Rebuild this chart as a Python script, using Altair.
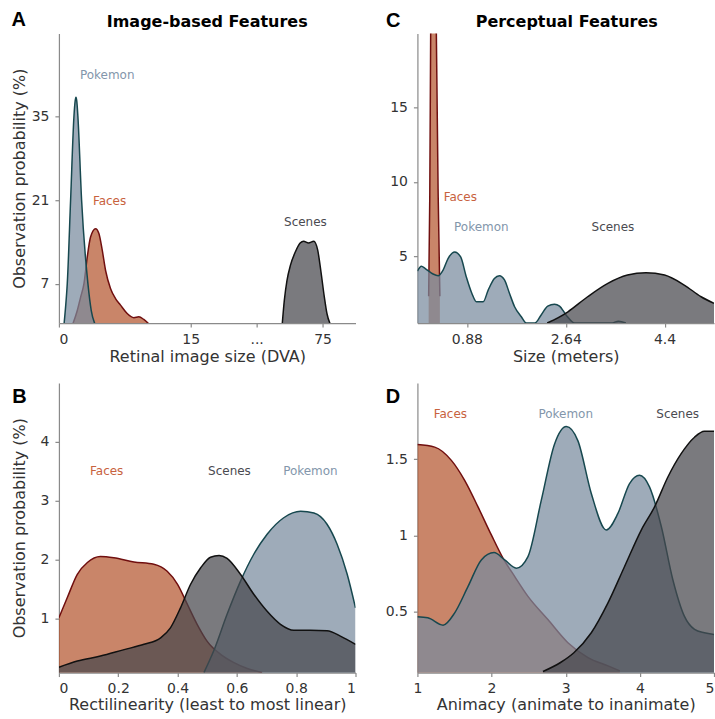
import altair as alt
import pandas as pd

FONT = "DejaVu Sans"

# ---------------- Panel A : Retinal image size (DVA) ----------------
A_POKEMON_X = [0.57, 0.76, 0.95, 1.33, 1.71, 1.85, 1.94, 2.03, 2.16, 2.58, 3.30, 3.68, 4.17]
A_POKEMON_Y = [0.0, 3.1, 7.0, 21.0, 35.0, 37.6, 38.2, 37.6, 35.0, 21.0, 7.0, 2.5, 0.0]
A_FACES_X = [1.52, 2.09, 2.47, 2.85, 3.22, 3.60, 4.17, 4.55, 4.93, 5.31, 5.87, 6.44, 7.01, 7.77, 8.53, 9.09, 9.66, 10.41]
A_FACES_Y = [0.0, 2.5, 4.75, 7.0, 11.4, 14.8, 16.2, 15.4, 12.6, 9.2, 6.2, 4.5, 3.4, 2.0, 1.3, 1.45, 1.0, 0.0]
A_SCENES_X = [65.8, 66.3, 66.9, 67.7, 68.8, 69.9, 70.7, 71.8, 73.0, 73.9, 74.6, 75.4, 76.0, 76.9]
A_SCENES_Y = [0.0, 4.2, 7.5, 10.1, 12.3, 13.8, 14.1, 13.8, 14.1, 12.6, 9.2, 4.8, 2.0, 0.0]
A_LABELS = ["Pokemon", "Faces", "Scenes"]
A_LABEL_X = [5.5, 5.76, 71.1]
A_LABEL_Y = [41.9, 20.9, 17.4]
A_XTICK_POS = [0, 2, 3, 4]
A_XTICK_LABELS = ["0", "15", "...", "75"]
A_YTICKS = [7, 21, 35]

# ---------------- Panel B : Rectilinearity ----------------
B_FACES_X = [0, 0.028, 0.062, 0.096, 0.14, 0.185, 0.253, 0.32, 0.365, 0.40, 0.433, 0.466, 0.50, 0.545, 0.59, 0.635, 0.685]
B_FACES_Y = [1.01, 1.35, 1.75, 1.95, 2.05, 2.03, 1.96, 1.92, 1.80, 1.58, 1.24, 0.90, 0.61, 0.39, 0.25, 0.15, 0.08]
B_SCENES_X = [0, 0.062, 0.14, 0.22, 0.287, 0.343, 0.376, 0.41, 0.444, 0.478, 0.511, 0.54, 0.567, 0.612, 0.657, 0.702, 0.747, 0.792, 0.848, 0.904, 0.949, 1.0]
B_SCENES_Y = [0.17, 0.275, 0.36, 0.47, 0.56, 0.67, 0.84, 1.18, 1.58, 1.86, 2.04, 2.07, 2.02, 1.75, 1.41, 1.12, 0.9, 0.8, 0.8, 0.79, 0.7, 0.56]
B_POKEMON_X = [0.489, 0.522, 0.567, 0.612, 0.657, 0.702, 0.758, 0.815, 0.86, 0.904, 0.938, 0.972, 1.0]
B_POKEMON_Y = [0.08, 0.45, 1.07, 1.63, 2.09, 2.43, 2.71, 2.82, 2.79, 2.6, 2.26, 1.75, 1.18]
B_LABELS = ["Faces", "Scenes", "Pokemon"]
B_LABEL_X = [0.161, 0.575, 0.848]
B_LABEL_Y = [3.5, 3.5, 3.5]
B_XTICKS = [0, 0.2, 0.4, 0.6, 0.8, 1]
B_YTICKS = [1, 2, 3, 4]

# ---------------- Panel C : Size (meters) ----------------
C_FACES_X = [0.20, 0.22, 0.236, 0.26, 0.29, 0.315, 0.337, 0.37, 0.40]
C_FACES_Y = [2.3, 9.0, 20.0, 32.0, 36.0, 32.0, 20.0, 9.0, 2.3]
C_POKEMON_X = [0, 0.07, 0.14, 0.278, 0.37, 0.457, 0.545, 0.663, 0.77, 0.87, 0.97, 1.05, 1.17, 1.26, 1.37, 1.46,
               1.55, 1.64, 1.73, 1.85, 1.94, 2.09, 2.2, 2.32, 2.44, 2.53, 2.65, 2.8, 3.45, 3.58, 3.71]
C_POKEMON_Y = [4.0, 4.33, 4.17, 3.8, 3.69, 4.07, 4.84, 5.29, 4.95, 3.61, 2.49, 1.93, 1.93, 2.72, 3.5, 3.69,
               3.41, 2.49, 1.6, 0.92, 0.5, 0.5, 1.03, 1.64, 1.77, 1.64, 1.03, 0.5, 0.5, 0.62, 0.5]
C_SCENES_X = [2.31, 2.5, 2.68, 3.03, 3.39, 3.74, 4.07, 4.4, 4.75, 5.05, 5.28]
C_SCENES_Y = [0.5, 0.85, 1.26, 2.27, 3.17, 3.73, 3.89, 3.73, 3.06, 2.27, 1.82]
C_LABELS = ["Faces", "Pokemon", "Scenes"]
C_LABEL_X = [0.764, 1.138, 3.48]
C_LABEL_Y = [8.99, 6.97, 6.97]
C_XTICKS = [0.88, 2.64, 4.4]
C_YTICKS = [5, 10, 15]

# ---------------- Panel D : Animacy ----------------
D_FACES_X = [1.0, 1.233, 1.458, 1.637, 1.817, 1.997, 2.154, 2.311, 2.491, 2.76, 3.03, 3.30, 3.57, 3.73]
D_FACES_Y = [1.596, 1.579, 1.492, 1.361, 1.187, 1.003, 0.851, 0.731, 0.6, 0.448, 0.296, 0.198, 0.144, 0.111]
D_POKEMON_X = [1.0, 1.14, 1.346, 1.503, 1.683, 1.862, 2.033, 2.177, 2.334, 2.491, 2.671, 2.85, 3.008, 3.165,
               3.345, 3.547, 3.704, 3.861, 3.996, 4.13, 4.29, 4.445, 4.6, 4.738, 4.87, 5.0]
D_POKEMON_Y = [0.466, 0.459, 0.411, 0.492, 0.665, 0.839, 0.887, 0.839, 0.785, 0.861, 1.231, 1.6, 1.714, 1.62,
               1.275, 1.035, 1.144, 1.34, 1.394, 1.318, 1.057, 0.709, 0.47, 0.383, 0.361, 0.35]
D_SCENES_X = [2.693, 2.93, 3.11, 3.345, 3.57, 3.794, 4.019, 4.198, 4.378, 4.557, 4.737, 4.87, 5.0]
D_SCENES_Y = [0.107, 0.166, 0.23, 0.361, 0.557, 0.796, 1.035, 1.187, 1.383, 1.536, 1.644, 1.683, 1.683]
D_LABELS = ["Faces", "Pokemon", "Scenes"]
D_LABEL_X = [1.445, 3.0, 4.51]
D_LABEL_Y = [1.796, 1.796, 1.796]
D_XTICKS = [1, 2, 3, 4, 5]
D_YTICKS = [0.5, 1, 1.5]

# ---------------- styles ----------------
FILL = {"Faces": "#b4562f", "Pokemon": "#788a9e", "Scenes": "#46464c"}
STROKE = {"Faces": "#700f0f", "Pokemon": "#17484f", "Scenes": "#111111"}
LABEL_COLOR = {"Faces": "#c8623e", "Pokemon": "#8396ab", "Scenes": "#4a4a50"}

W, H = 297, 290

A_XEXPR = "datum.x <= 15 ? datum.x / 7.5 : 3 + (datum.x - 60) / 15"
PLAIN = "'' + datum.value"


def panel(curves, labels, xdom, ydom, xaxis, yaxis, letter, letter_xy, title=None, xexpr=None, anchor=False):
    xs = alt.Scale(domain=xdom, zero=False, nice=False)
    ys = alt.Scale(domain=ydom, zero=False, nice=False)
    xf = "xp" if xexpr else "x"
    layers = []
    for name, xv, yv in curves:
        df = pd.DataFrame({"x": xv, "y": yv})
        base = alt.Chart(df)
        if xexpr:
            base = base.transform_calculate(xp=xexpr)
        enc = dict(x=alt.X(f"{xf}:Q", scale=xs, axis=xaxis),
                   y=alt.Y("y:Q", scale=ys, axis=yaxis))
        layers.append(base.mark_area(clip=True, interpolate="monotone", fill=FILL[name],
                                     fillOpacity=0.72).encode(**enc))
        layers.append(base.mark_line(clip=True, interpolate="monotone", stroke=STROKE[name],
                                     strokeWidth=1.5).encode(**enc))
    names, lx, ly = labels
    ldf = pd.DataFrame({"t": names, "x": lx, "y": ly, "c": [LABEL_COLOR[n] for n in names]})
    lbase = alt.Chart(ldf)
    if xexpr:
        lbase = lbase.transform_calculate(xp=xexpr)
    layers.append(lbase.mark_text(font=FONT, fontSize=12, align="center", baseline="middle").encode(
        x=alt.X(f"{xf}:Q", scale=xs, axis=xaxis),
        y=alt.Y("y:Q", scale=ys, axis=yaxis),
        text="t:N",
        color=alt.Color("c:N", scale=None)))
    # panel letter
    layers.append(alt.Chart(pd.DataFrame({"t": [letter]})).mark_text(
        font="Liberation Sans", fontSize=20, fontWeight="bold", align="left",
        baseline="alphabetic", color="black").encode(
        x=alt.value(letter_xy[0]), y=alt.value(letter_xy[1]), text="t:N"))
    if title:
        layers.append(alt.Chart(pd.DataFrame({"t": [title[0]]})).mark_text(
            font=FONT, fontSize=16, fontWeight="bold", align="center",
            baseline="alphabetic", color="black").encode(
            x=alt.value(title[1]), y=alt.value(-6.3), text="t:N"))
    if anchor:
        layers.append(alt.Chart(pd.DataFrame({"a": [0]})).mark_rule(opacity=0).encode(
            x=alt.value(-58.5), x2=alt.value(-58.5), y=alt.value(-33), y2=alt.value(-33)))
    return alt.layer(*layers).properties(width=W, height=H)


YT = "Observation probability (%)"


def yaxis(values, title=None):
    kw = dict(values=values, labelExpr=PLAIN, labelPadding=6, tickSize=4)
    if title:
        kw.update(title=title, titleX=-34, titleY=H / 2, titleBaseline="alphabetic")
    else:
        kw.update(title=None)
    return alt.Axis(**kw)


def xaxis(values, title, ty, label_expr=PLAIN, **extra):
    return alt.Axis(values=values, labelExpr=label_expr, title=title, titleY=ty, titleBaseline="alphabetic",
                    labelPadding=5, tickSize=4, **extra)


a_label_expr = ("[" + ",".join(f"'{s}'" for s in A_XTICK_LABELS) + "][indexof(["
                + ",".join(str(v) for v in A_XTICK_POS) + "], datum.value)]")

pA = panel(
    [("Faces", A_FACES_X, A_FACES_Y), ("Pokemon", A_POKEMON_X, A_POKEMON_Y), ("Scenes", A_SCENES_X, A_SCENES_Y)],
    (A_LABELS, A_LABEL_X, A_LABEL_Y), [0, 4.5], [0.4, 48.9],
    xaxis(A_XTICK_POS, "Retinal image size (DVA)", 39, label_expr=a_label_expr),
    yaxis(A_YTICKS, YT), "A", (-47.5, -7), title=("Image-based Features", 148.5), xexpr=A_XEXPR, anchor=True)

pC = panel(
    [("Faces", C_FACES_X, C_FACES_Y), ("Pokemon", C_POKEMON_X, C_POKEMON_Y), ("Scenes", C_SCENES_X, C_SCENES_Y)],
    (C_LABELS, C_LABEL_X, C_LABEL_Y), [0, 5.28], [0.5, 20],
    xaxis(C_XTICKS, "Size (meters)", 39),
    yaxis(C_YTICKS), "C", (-31.5, -6.3), title=("Perceptual Features", 149.5))

pB = panel(
    [("Faces", B_FACES_X, B_FACES_Y), ("Pokemon", B_POKEMON_X, B_POKEMON_Y), ("Scenes", B_SCENES_X, B_SCENES_Y)],
    (B_LABELS, B_LABEL_X, B_LABEL_Y), [0, 1], [0.08, 5.0],
    xaxis(B_XTICKS, "Rectilinearity (least to most linear)", 37),
    yaxis(B_YTICKS, YT), "B", (-46.8, 20.3))

pD = panel(
    [("Faces", D_FACES_X, D_FACES_Y), ("Pokemon", D_POKEMON_X, D_POKEMON_Y), ("Scenes", D_SCENES_X, D_SCENES_Y)],
    (D_LABELS, D_LABEL_X, D_LABEL_Y), [1, 5], [0.1, 2.0],
    xaxis(D_XTICKS, "Animacy (animate to inanimate)", 37,
          labelAlign={"condition": {"test": "datum.value === 5", "value": "right"}, "value": "center"}),
    yaxis(D_YTICKS), "D", (-31.8, 20.3))

chart = alt.concat(pA, pC, pB, pD, columns=2, spacing={"row": 60, "column": 62}, bounds="flush").properties(
    padding=0, background="white"
).configure_view(strokeWidth=0).configure_axis(
    domainColor="#8a8a8a", domainWidth=1.2, tickColor="#8a8a8a", tickWidth=1.2,
    labelFont=FONT, labelFontSize=14, labelColor="#333333",
    titleFont=FONT, titleFontSize=16, titleFontWeight="normal", titleColor="#333333",
    grid=False,
)

chart.save("out.html", embed_options={"renderer": "svg", "actions": False})
